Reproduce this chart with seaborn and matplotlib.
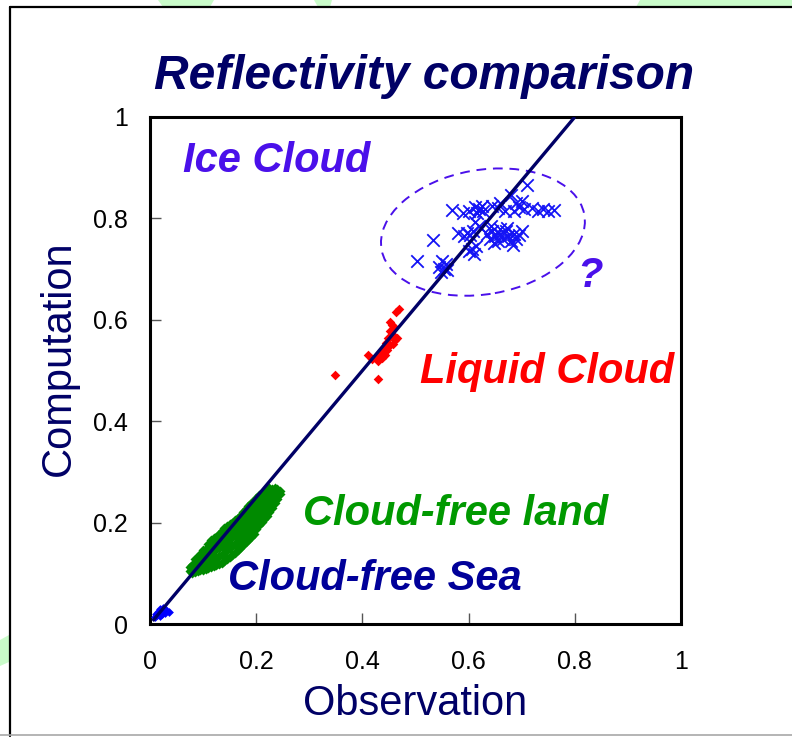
import matplotlib
matplotlib.use("Agg")
import matplotlib.pyplot as plt
from matplotlib.patches import Ellipse, Polygon
from matplotlib.lines import Line2D
import pandas as pd
import seaborn as sns

# ---- data -------------------------------------------------------------
# Cloud-free sea (near the origin)
sea_obs = [0.010, 0.013, 0.016, 0.019, 0.022, 0.025, 0.028, 0.031, 0.035, 0.018, 0.024, 0.012]
sea_comp = [0.013, 0.018, 0.024, 0.030, 0.020, 0.026, 0.022, 0.027, 0.023, 0.015, 0.032, 0.020]

# Cloud-free land: observation bins and the computed values found in each
land_obs_bins = [0.075, 0.080, 0.085, 0.090, 0.095, 0.100, 0.105, 0.110, 0.115, 0.120,
                 0.125, 0.130, 0.135, 0.140, 0.145, 0.150, 0.155, 0.160, 0.165, 0.170,
                 0.175, 0.180, 0.185, 0.190, 0.195, 0.200, 0.205, 0.210, 0.215, 0.220,
                 0.225, 0.230, 0.235, 0.240, 0.245]
land_comp_bins = [
    [0.105, 0.112],
    [0.100, 0.108, 0.117],
    [0.103, 0.112, 0.121, 0.128],
    [0.104, 0.115, 0.126, 0.133],
    [0.106, 0.118, 0.129, 0.139],
    [0.107, 0.116, 0.127, 0.138, 0.145],
    [0.109, 0.121, 0.133, 0.147],
    [0.110, 0.122, 0.136, 0.150, 0.158],
    [0.112, 0.126, 0.141, 0.156, 0.165],
    [0.114, 0.128, 0.143, 0.158, 0.170],
    [0.116, 0.131, 0.147, 0.162, 0.172],
    [0.118, 0.134, 0.150, 0.166, 0.178],
    [0.121, 0.137, 0.154, 0.170, 0.184],
    [0.125, 0.141, 0.158, 0.174, 0.189],
    [0.129, 0.146, 0.162, 0.179, 0.193],
    [0.133, 0.150, 0.167, 0.183, 0.197],
    [0.137, 0.154, 0.171, 0.188, 0.200],
    [0.141, 0.158, 0.175, 0.192, 0.205],
    [0.146, 0.163, 0.180, 0.197, 0.209],
    [0.150, 0.167, 0.184, 0.201, 0.214],
    [0.155, 0.172, 0.189, 0.206, 0.220],
    [0.161, 0.178, 0.195, 0.212, 0.227],
    [0.166, 0.184, 0.201, 0.218, 0.232],
    [0.172, 0.190, 0.207, 0.224, 0.238],
    [0.178, 0.196, 0.213, 0.230, 0.243],
    [0.187, 0.203, 0.219, 0.235, 0.249],
    [0.195, 0.210, 0.226, 0.241, 0.254],
    [0.201, 0.216, 0.232, 0.247, 0.259],
    [0.207, 0.222, 0.238, 0.252, 0.263],
    [0.213, 0.228, 0.243, 0.257, 0.266],
    [0.220, 0.235, 0.249, 0.262, 0.268],
    [0.229, 0.243, 0.256, 0.266],
    [0.238, 0.251, 0.262, 0.268],
    [0.247, 0.258, 0.266],
    [0.256, 0.263],
]

# Liquid cloud
liquid_obs = [0.468, 0.464, 0.452, 0.455, 0.460, 0.452, 0.458, 0.448, 0.462, 0.445,
              0.452, 0.440, 0.447, 0.435, 0.442, 0.465, 0.457, 0.437, 0.410, 0.418,
              0.425, 0.430, 0.348, 0.430]
liquid_comp = [0.621, 0.615, 0.596, 0.590, 0.585, 0.578, 0.570, 0.565, 0.560, 0.555,
               0.550, 0.545, 0.540, 0.535, 0.530, 0.564, 0.553, 0.525, 0.530, 0.522,
               0.527, 0.518, 0.491, 0.483]

# Ice cloud
ice_obs = [0.502, 0.533, 0.545, 0.550, 0.553, 0.558, 0.548, 0.560,
           0.568, 0.590, 0.600, 0.612, 0.620, 0.628, 0.615, 0.625,
           0.580, 0.592, 0.597, 0.602, 0.608,
           0.600, 0.607, 0.614, 0.610, 0.612, 0.620,
           0.635, 0.640, 0.645, 0.650, 0.655, 0.660, 0.665, 0.670, 0.675, 0.680,
           0.685, 0.690, 0.695, 0.700, 0.660, 0.672, 0.648, 0.683, 0.642,
           0.645, 0.655, 0.660, 0.668, 0.680, 0.710,
           0.685, 0.695, 0.705, 0.720, 0.730, 0.740, 0.750, 0.760, 0.690, 0.700]
ice_comp = [0.715, 0.757, 0.705, 0.715, 0.700, 0.710, 0.695, 0.698,
            0.817, 0.811, 0.815, 0.822, 0.818, 0.815, 0.810, 0.825,
            0.772, 0.765, 0.772, 0.768, 0.775,
            0.735, 0.740, 0.745, 0.730, 0.793, 0.785,
            0.770, 0.760, 0.775, 0.765, 0.755, 0.770, 0.760, 0.775, 0.765, 0.755,
            0.770, 0.760, 0.768, 0.775, 0.780, 0.782, 0.752, 0.748, 0.785,
            0.825, 0.820, 0.830, 0.815, 0.846, 0.866,
            0.815, 0.822, 0.818, 0.820, 0.815, 0.818, 0.815, 0.816, 0.830, 0.835]

# reference fit line
fit_obs = [0.005, 0.800]
fit_comp = [0.006, 1.000]

ticks = [0, 0.2, 0.4, 0.6, 0.8, 1]
tick_labels = ["0", "0.2", "0.4", "0.6", "0.8", "1"]

# ---- styling ----------------------------------------------------------
sns.set_style("white")
plt.rcParams["font.family"] = ["Liberation Sans", "DejaVu Sans"]

NAVY = "#000066"
VIOLET = "#4a10ea"
ICE_BLUE = "#1414f5"
RED = "#ff0000"
GREEN = "#008a00"
SEA_NAVY = "#000099"

W, H = 792, 738
fig = plt.figure(figsize=(W / 100, H / 100), dpi=100)
fig.patch.set_facecolor("white")

# slide decorations behind the frame
def px_poly(pts, **kw):
    return Polygon([(x / W, 1 - y / H) for x, y in pts], closed=True,
                   transform=fig.transFigure, **kw)

deco = "#c9fbc9"
for pts in ([(158, 0), (214, 0), (210, 7), (163, 7)],
            [(314, 0), (332, 0), (330, 7), (318, 7)],
            [(640, 0), (792, 0), (792, 7), (636, 7)],
            [(0, 640), (9, 635), (9, 662), (0, 666)]):
    fig.patches.append(px_poly(pts, facecolor=deco, edgecolor="none", zorder=0))

# slide frame
fig.add_artist(Line2D([10 / W, 10 / W], [1 - 7 / H, 1 - 736 / H], transform=fig.transFigure,
                      color="black", lw=1.6, zorder=1))
fig.add_artist(Line2D([10 / W, 1.0], [1 - 7 / H, 1 - 7 / H], transform=fig.transFigure,
                      color="black", lw=1.6, zorder=1))
fig.add_artist(Line2D([0, 1.0], [1 - 735 / H, 1 - 735 / H], transform=fig.transFigure,
                      color="#a8a8a8", lw=1.2, zorder=1))

ax = fig.add_axes([150 / W, 1 - 624 / H, 531 / W, 507 / H])
ax.set_facecolor("white")

land_obs = [o for o, comps in zip(land_obs_bins, land_comp_bins) for _ in comps]
land_comp = [c for comps in land_comp_bins for c in comps]

land_df = pd.DataFrame({"obs": land_obs, "comp": land_comp})
sea_df = pd.DataFrame({"obs": sea_obs, "comp": sea_comp})
liq_df = pd.DataFrame({"obs": liquid_obs, "comp": liquid_comp})
ice_df = pd.DataFrame({"obs": ice_obs, "comp": ice_comp})

sns.scatterplot(data=land_df, x="obs", y="comp", ax=ax, marker="D", s=26,
                color=GREEN, linewidth=0, zorder=3)
sns.scatterplot(data=sea_df, x="obs", y="comp", ax=ax, marker="D", s=20,
                color="#0000ff", linewidth=0, zorder=3)
sns.scatterplot(data=liq_df, x="obs", y="comp", ax=ax, marker="D", s=24,
                color=RED, linewidth=0, zorder=3)
sns.scatterplot(data=ice_df, x="obs", y="comp", ax=ax, marker="x", s=80,
                color=ICE_BLUE, linewidth=1.3, zorder=3)

ax.plot(fit_obs, fit_comp, color=NAVY, lw=2.4, zorder=4, solid_capstyle="butt")

ax.add_patch(Ellipse((0.627, 0.773), 0.388, 0.245, angle=10.6, fill=False,
                     edgecolor=VIOLET, lw=1.4, linestyle=(0, (5, 3.5)), zorder=2))

txt = dict(fontweight="bold", fontstyle="italic", fontsize=30, va="baseline", ha="left")
ax.text(0.062, 0.891, "Ice Cloud", color=VIOLET, **txt)
ax.text(0.804, 0.665, "?", color=VIOLET, **txt)
ax.text(0.508, 0.475, "Liquid Cloud", color=RED, **txt)
ax.text(0.288, 0.195, "Cloud-free land", color="#009900", **txt)
ax.text(0.147, 0.067, "Cloud-free Sea", color=SEA_NAVY, **txt)

ax.set_xlim(0, 1)
ax.set_ylim(0, 1)
ax.set_xticks(ticks)
ax.set_xticklabels(tick_labels)
ax.set_yticks(ticks)
ax.set_yticklabels(tick_labels)
ax.tick_params(axis="both", direction="in", length=8, width=1.0, color="#555555",
               labelsize=18, labelcolor="black")
ax.tick_params(axis="x", pad=19, bottom=True, top=False)
ax.tick_params(axis="y", pad=16, left=True, right=False)
for sp in ax.spines.values():
    sp.set_visible(True)
    sp.set_color("black")
    sp.set_linewidth(2.2)

ax.set_xlabel("Observation", fontsize=30, color=NAVY)
ax.set_ylabel("Computation", fontsize=30, color=NAVY)
ax.xaxis.label.set_va("baseline")
ax.xaxis.set_label_coords(0.5, (624 - 715) / 507)
ax.yaxis.label.set_va("baseline")
ax.yaxis.set_label_coords((70 - 150) / 531, (624 - 358) / 507)

fig.text(424 / W, 1 - 89 / H, "Reflectivity comparison", ha="center", va="baseline",
         fontsize=34.5, fontweight="bold", fontstyle="italic", color=NAVY)

fig.savefig("out.png", dpi=100, facecolor="white")
